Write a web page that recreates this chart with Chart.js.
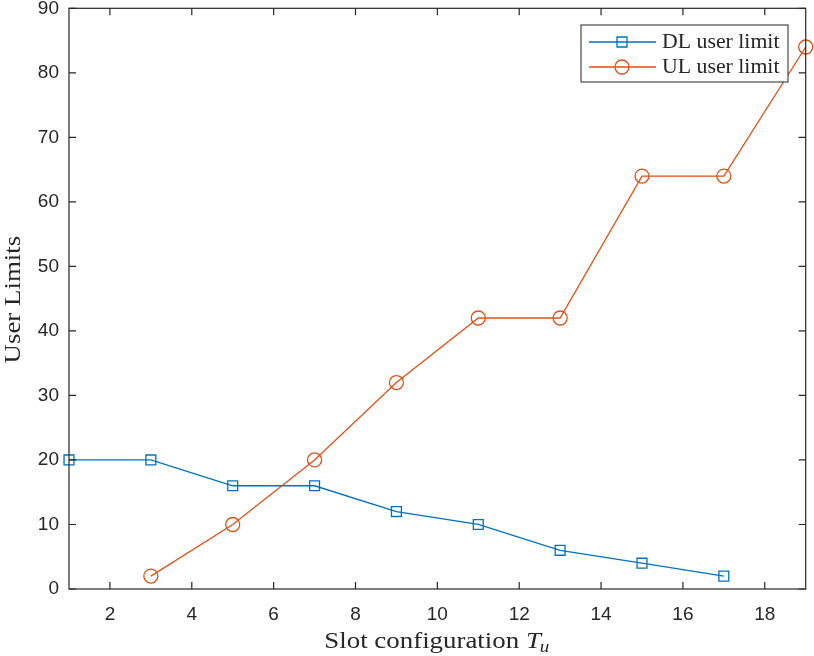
<!DOCTYPE html>
<html lang="en">
<head>
<meta charset="UTF-8">
<title>User limits vs slot configuration</title>
<script src="https://cdn.jsdelivr.net/npm/chart.js"></script>
<style>
    html, body { margin: 0; padding: 0; background: #fff; }
    #wrap { width: 814px; height: 656px; }
</style>
</head>
<body>
<div id="wrap"><canvas id="limits"></canvas></div>
<script>
    // values
    const dlSlots = [1, 3, 5, 7, 9, 11, 13, 15, 17];
    const dlLimits = [20, 20, 16, 16, 12, 10, 6, 4, 2];
    const ulSlots = [3, 5, 7, 9, 11, 13, 15, 17, 19];
    const ulLimits = [2, 10, 20, 32, 42, 42, 64, 64, 84];
    const xTicks = [2, 4, 6, 8, 10, 12, 14, 16, 18];
    const yTicks = [0, 10, 20, 30, 40, 50, 60, 70, 80, 90];

    const axisColor = '#262626';
    const blue = '#0072BD';
    const orange = '#D95319';
    const serif = '"Liberation Serif", "DejaVu Serif", serif';
    const sans = '"Liberation Sans", Arial, sans-serif';
    // Times is narrower than the LaTeX font of the original, widen it a bit
    const widen = 1.12;

    function toPoints(xs, ys) {
        return xs.map((x, i) => ({ x: x, y: ys[i] }));
    }

    // box, inside ticks, axis titles and legend, drawn MATLAB-style
    const matlabFrame = {
        id: 'matlabFrame',
        afterDraw(chart) {
            const { ctx, chartArea: a, scales } = chart;
            const tl = 7;
            ctx.save();
            ctx.strokeStyle = axisColor;
            ctx.lineWidth = 1.2;
            ctx.strokeRect(a.left, a.top, a.right - a.left, a.bottom - a.top);
            ctx.beginPath();
            xTicks.forEach(v => {
                const px = scales.x.getPixelForValue(v);
                ctx.moveTo(px, a.bottom); ctx.lineTo(px, a.bottom - tl);
                ctx.moveTo(px, a.top); ctx.lineTo(px, a.top + tl);
            });
            yTicks.forEach(v => {
                const py = scales.y.getPixelForValue(v);
                ctx.moveTo(a.left, py); ctx.lineTo(a.left + tl, py);
                ctx.moveTo(a.right, py); ctx.lineTo(a.right - tl, py);
            });
            ctx.stroke();

            // x title with italic T and subscript u
            ctx.fillStyle = axisColor;
            ctx.textBaseline = 'alphabetic';
            ctx.textAlign = 'left';
            const main = 'Slot configuration ';
            ctx.font = '24px ' + serif;
            const w1 = ctx.measureText(main).width;
            ctx.font = 'italic 24px ' + serif;
            const w2 = ctx.measureText('T').width;
            ctx.font = 'italic 17px ' + serif;
            const w3 = ctx.measureText('u').width;
            const total = (w1 + w2 + w3) * widen;
            ctx.save();
            ctx.translate((a.left + a.right) / 2 - total / 2, 648);
            ctx.scale(widen, 1);
            ctx.font = '24px ' + serif;
            ctx.fillText(main, 0, 0);
            ctx.font = 'italic 24px ' + serif;
            ctx.fillText('T', w1, 0);
            ctx.font = 'italic 17px ' + serif;
            ctx.fillText('u', w1 + w2 - 1, 4);
            ctx.restore();

            // y title
            ctx.save();
            ctx.translate(20, (a.top + a.bottom) / 2 + 1);
            ctx.rotate(-Math.PI / 2);
            ctx.scale(widen, 1);
            ctx.textAlign = 'center';
            ctx.font = '24px ' + serif;
            ctx.fillText('User Limits', 0, 0);
            ctx.restore();

            // legend
            const lx = 581, ly = 25, lw = 207, lh = 57;
            ctx.fillStyle = '#fff';
            ctx.fillRect(lx, ly, lw, lh);
            ctx.strokeStyle = axisColor;
            ctx.lineWidth = 1;
            ctx.strokeRect(lx, ly, lw, lh);
            chart.data.datasets.forEach((ds, i) => {
                const cy = ly + 17 + i * 25;
                ctx.strokeStyle = ds.borderColor;
                ctx.lineWidth = 1.3;
                ctx.beginPath();
                ctx.moveTo(lx + 8, cy); ctx.lineTo(lx + 75, cy);
                ctx.stroke();
                ctx.beginPath();
                if (ds.pointStyle === 'rect') {
                    ctx.rect(lx + 41 - 5, cy - 5, 10, 10);
                } else {
                    ctx.arc(lx + 41, cy, 7, 0, Math.PI * 2);
                }
                ctx.stroke();
                ctx.save();
                ctx.translate(lx + 81, cy + 1);
                ctx.scale(1.09, 1);
                ctx.fillStyle = axisColor;
                ctx.font = '20px ' + serif;
                ctx.textAlign = 'left';
                ctx.textBaseline = 'middle';
                ctx.fillText(ds.label, 0, 0);
                ctx.restore();
            });
            ctx.restore();
        }
    };

    new Chart(document.getElementById('limits'), {
        type: 'line',
        data: {
            datasets: [{
                label: 'DL user limit',
                data: toPoints(dlSlots, dlLimits),
                borderColor: blue,
                backgroundColor: 'rgba(0,0,0,0)',
                borderWidth: 1.3,
                pointStyle: 'rect',
                pointRadius: 7,
                pointBorderWidth: 1.3,
                pointBorderColor: blue,
                pointBackgroundColor: 'rgba(0,0,0,0)',
                tension: 0,
                clip: false,
                order: 1
            }, {
                label: 'UL user limit',
                data: toPoints(ulSlots, ulLimits),
                borderColor: orange,
                backgroundColor: 'rgba(0,0,0,0)',
                borderWidth: 1.3,
                pointStyle: 'circle',
                pointRadius: 7,
                pointBorderWidth: 1.3,
                pointBorderColor: orange,
                pointBackgroundColor: 'rgba(0,0,0,0)',
                tension: 0,
                clip: false,
                order: 0
            }]
        },
        options: {
            responsive: true,
            maintainAspectRatio: false,
            animation: false,
            layout: { padding: { top: 7, right: 7, left: 0, bottom: 0 } },
            plugins: {
                legend: { display: false },
                tooltip: { enabled: false }
            },
            scales: {
                x: {
                    type: 'linear',
                    min: 1,
                    max: 19,
                    afterBuildTicks: s => { s.ticks = xTicks.map(v => ({ value: v })); },
                    afterFit: s => {
                        s.height = 67;
                        s.paddingLeft = 0; s.paddingRight = 0;
                    },
                    grid: { display: false, drawTicks: false },
                    border: { display: false },
                    ticks: {
                        color: axisColor,
                        padding: 14,
                        maxRotation: 0,
                        font: { family: sans, size: 19 }
                    }
                },
                y: {
                    min: 0,
                    max: 90,
                    afterBuildTicks: s => { s.ticks = yTicks.map(v => ({ value: v })); },
                    afterFit: s => {
                        s.width = 69;
                        s.paddingTop = 0; s.paddingBottom = 0;
                    },
                    grid: { display: false, drawTicks: false },
                    border: { display: false },
                    ticks: {
                        color: axisColor,
                        padding: 10,
                        font: { family: sans, size: 19 }
                    }
                }
            }
        },
        plugins: [matlabFrame]
    });
</script>
</body>
</html>
